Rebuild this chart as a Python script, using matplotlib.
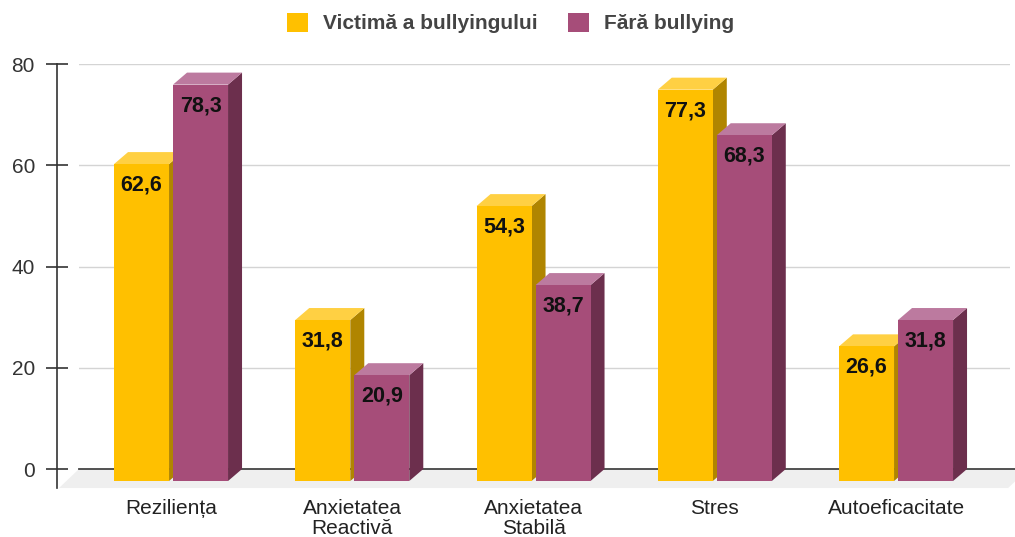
''' Grafic 3D cu bare: victime ale bullyingului vs fara bullying '''

import numpy as np
import matplotlib
matplotlib.use('Agg')
import matplotlib.pyplot as plt
from matplotlib.patches import Polygon, Patch

plt.rcParams['font.family'] = ['Liberation Sans', 'DejaVu Sans']

# Date
categorii = ['Reziliența', 'Anxietatea\nReactivă', 'Anxietatea\nStabilă', 'Stres', 'Autoeficacitate']
victime = [62.6, 31.8, 54.3, 77.3, 26.6]
fara_bullying = [78.3, 20.9, 38.7, 68.3, 31.8]
serii = ['Victimă a bullyingului', 'Fără bullying']
yticks = [0, 20, 40, 60, 80]

# Culori: fata, sus, lateral
galben = ('#FFC000', '#FFD043', '#B08500')
mov = ('#A64D79', '#BC7A9F', '#6C2F4D')

W, H = 1015, 537
fig = plt.figure(figsize=(W / 100, H / 100), dpi=100)

# axa corespunde planului din spate
x_st, x_dr = 79, 1010
y_sus, y_jos = 64, 488
ax = fig.add_axes([x_st / W, (H - y_jos) / H, (x_dr - x_st) / W, (y_jos - y_sus) / H])
ax.set_xlim(-0.585, -0.585 + (x_dr - x_st) / 181.25)
ax.set_ylim(-3.75, 80)

# conversie pixeli -> unitati de date
px_x = (x_dr - x_st) / (ax.get_xlim()[1] - ax.get_xlim()[0])
px_y = (y_jos - y_sus) / (ax.get_ylim()[1] - ax.get_ylim()[0])
dx = 14 / px_x   # adancime bara
dy = 12 / px_y
fdx = 20 / px_x  # adancime podea
fdy = 19 / px_y

for s in ['top', 'right', 'bottom']:
    ax.spines[s].set_visible(False)
ax.spines['left'].set_position(('outward', 22 * 0.72))
ax.spines['left'].set_color('#333333')
ax.spines['left'].set_linewidth(1.2)
ax.set_yticks(yticks)
ax.tick_params(axis='y', direction='inout', length=22 * 0.72, width=1.2,
               color='#333333', labelcolor='#333333', labelsize=15, pad=8)
ax.set_xticks([])

# podea
xl = ax.get_xlim()
podea = Polygon([(xl[0], 0), (xl[1] + 0.1, 0), (xl[1] + 0.1 - fdx, -fdy), (xl[0] - fdx, -fdy)],
                closed=True, fc='#efefef', ec='none', zorder=1, clip_on=False)
ax.add_patch(podea)

# linii de grila
for t in yticks[1:]:
    ax.axhline(t, color='#d4d4d4', lw=1, zorder=0)
ax.plot([xl[0], xl[1] + 0.1], [0, 0], color='#444444', lw=1.3, zorder=2, clip_on=False)

bw = 0.3035
spatiu = 0.011

def bara3d(x0, v, culori, z):
    x1 = x0 + bw
    fata, sus, lat = culori
    lateral = Polygon([(x1 - dx, -dy), (x1, 0), (x1, v), (x1 - dx, v - dy)],
                      closed=True, fc=lat, ec='none', zorder=z)
    capac = Polygon([(x0 - dx, v - dy), (x1 - dx, v - dy), (x1, v), (x0, v)],
                    closed=True, fc=sus, ec='none', zorder=z)
    ax.add_patch(lateral)
    ax.add_patch(capac)
    ax.bar(x0 - dx, v, bottom=-dy, width=bw, align='edge', color=fata, zorder=z + 0.5)
    ax.annotate(('%.1f' % v).replace('.', ','), xy=(x0 - dx + bw / 2, v - dy),
                xytext=(0, -21), textcoords='offset pixels', ha='center', va='center',
                fontsize=15.5, fontweight='bold', color='#111111', zorder=z + 1)

z = 3
for i in range(len(categorii)):
    bara3d(i - spatiu - bw, victime[i], galben, z)
    z += 2
    bara3d(i + spatiu, fara_bullying[i], mov, z)
    z += 2
    ax.annotate(categorii[i], xy=(i - dx, 0), xytext=(0, -30), textcoords='offset pixels',
                ha='center', va='top', fontsize=15, color='#222222', linespacing=1.08,
                annotation_clip=False)

# legenda
handles = [Patch(fc=galben[0], ec='none'), Patch(fc=mov[0], ec='none')]
fig.legend(handles, serii, loc='center', bbox_to_anchor=(0.503, 0.957), ncol=2,
           frameon=False, handlelength=1.0, handleheight=1.0, handletextpad=0.72,
           columnspacing=1.44, prop={'size': 15, 'weight': 'bold'}, labelcolor='#444444')

fig.savefig('out.png', dpi=100)
